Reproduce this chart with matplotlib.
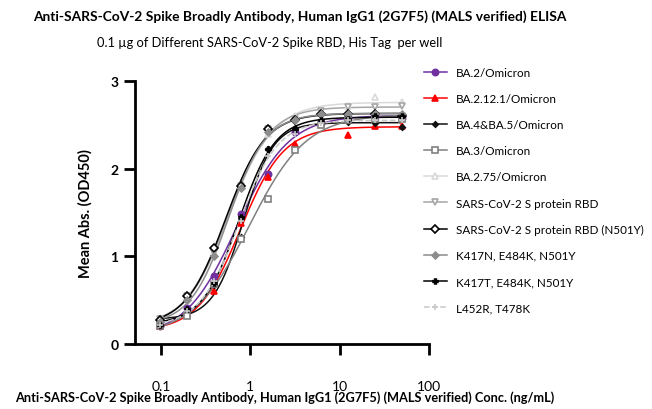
import numpy as np
import matplotlib.pyplot as plt
from matplotlib.lines import Line2D

plt.rcParams['font.family'] = ['Lato', 'DejaVu Sans']

# concentracoes (ng/mL)
conc = [0.098, 0.195, 0.39, 0.78, 1.5625, 3.125, 6.25, 12.5, 25, 50]

ba2 = [0.20, 0.41, 0.78, 1.48, 1.94, 2.42, 2.52, 2.59, 2.59, 2.58]
ba2121 = [0.21, 0.34, 0.61, 1.38, 1.91, 2.28, 2.52, 2.38, 2.49, 2.49]
ba45 = [0.22, 0.35, 0.67, 1.22, 2.23, 2.46, 2.52, 2.53, 2.52, 2.47]
ba3 = [0.20, 0.32, 0.68, 1.20, 1.65, 2.21, 2.50, 2.55, 2.57, 2.57]
ba275 = [0.28, 0.55, 1.05, 1.80, 2.40, 2.60, 2.65, 2.72, 2.82, 2.76]
rbd = [0.29, 0.55, 1.04, 1.80, 2.45, 2.57, 2.66, 2.70, 2.70, 2.72]
n501y = [0.27, 0.55, 1.10, 1.80, 2.45, 2.55, 2.62, 2.62, 2.62, 2.60]
k417n = [0.25, 0.50, 1.00, 1.78, 2.42, 2.55, 2.62, 2.62, 2.62, 2.62]
k417t = [0.22, 0.40, 0.70, 1.45, 2.22, 2.45, 2.55, 2.57, 2.60, 2.60]
l452r = [0.22, 0.38, 0.72, 1.40, 2.15, 2.40, 2.52, 2.55, 2.55, 2.55]

labels = ['BA.2/Omicron', 'BA.2.12.1/Omicron', 'BA.4&BA.5/Omicron', 'BA.3/Omicron',
          'BA.2.75/Omicron', 'SARS-CoV-2 S protein RBD', 'SARS-CoV-2 S protein RBD (N501Y)',
          'K417N, E484K, N501Y', 'K417T, E484K, N501Y', 'L452R, T478K']
series = [ba2, ba2121, ba45, ba3, ba275, rbd, n501y, k417n, k417t, l452r]

# estilo de cada serie: (cor, marcador, face, linestyle)
estilos = [
    ('#7030A0', 'o', '#7030A0', '-'),
    ('#FF0000', '^', '#FF0000', '-'),
    ('#111111', 'D', '#111111', '-'),
    ('#808080', 's', 'white', '-'),
    ('#D9D9D9', '^', 'white', '-'),
    ('#A6A6A6', 'v', 'white', '-'),
    ('#000000', 'D', 'white', '-'),
    ('#8C8C8C', 'D', '#8C8C8C', '-'),
    ('#000000', 'P', '#000000', '-'),
    ('#C8C8C8', '+', '#C8C8C8', '--'),
]
tamanhos = [4.5, 4.5, 2.8, 4.5, 5, 5, 4.5, 3.5, 3.5, 5]


def ajuste_4pl(x, y):
    """Ajuste logistico 4 parametros: grade em logEC50/hill, minimos quadrados no resto."""
    lx = np.log10(x)
    y = np.asarray(y)
    best = None
    for le in np.arange(-1.0, 0.6, 0.01):
        for h in np.arange(0.6, 3.0, 0.02):
            f = 1.0 / (1.0 + 10 ** ((le - lx) * h))
            A = np.column_stack([1 - f, f])
            coef, *_ = np.linalg.lstsq(A, y, rcond=None)
            err = np.sum((A @ coef - y) ** 2)
            if best is None or err < best[0]:
                best = (err, coef[0], coef[1], le, h)
    return best[1:]


fig = plt.figure(figsize=(6.52, 4.10), dpi=100)
ax = fig.add_axes([135 / 652, 65 / 410, 294 / 652, 263 / 410])

xs = np.logspace(np.log10(conc[0]), np.log10(conc[-1]), 200)
handles = []
for y, lab, (cor, mk, face, ls), ms in zip(series, labels, estilos, tamanhos):
    bot, top, le, h = ajuste_4pl(conc, y)
    curva = bot + (top - bot) / (1 + 10 ** ((le - np.log10(xs)) * h))
    ax.plot(xs, curva, color=cor, lw=1.1, ls=ls, zorder=2)
    ax.plot(conc, y, ls='none', marker=mk, ms=ms, mfc=face, mec=cor, mew=1.2, zorder=3)
    handles.append(Line2D([], [], color=cor, ls=ls, lw=1.1, marker=mk, ms=ms,
                          mfc=face, mec=cor, mew=1.2))

ax.set_xscale('log')
ax.set_xlim(0.051, 100)
ax.set_ylim(0, 3)
ax.set_xticks([0.1, 1, 10, 100])
ax.set_xticklabels(['0.1', '1', '10', '100'])
ax.minorticks_off()
ax.set_yticks([0, 1, 2, 3])
for s in ['top', 'right']:
    ax.spines[s].set_visible(False)
for s in ['left', 'bottom']:
    ax.spines[s].set_linewidth(2)
ax.tick_params(axis='both', width=2, length=8, labelsize=10)
ax.tick_params(axis='x', pad=18)
ax.tick_params(axis='y', pad=4)
for t in ax.get_yticklabels():
    t.set_fontweight('bold')

ax.set_ylabel('Mean Abs. (OD450)', fontsize=10.5, fontweight='bold', labelpad=13)

fig.text(33 / 652, 1 - 17 / 410,
         'Anti-SARS-CoV-2 Spike Broadly Antibody, Human IgG1 (2G7F5) (MALS verified) ELISA',
         fontsize=9.9, fontweight='bold', va='center', ha='left')
fig.text(97 / 652, 1 - 43 / 410,
         '0.1 \u00b5g of Different SARS-CoV-2 Spike RBD, His Tag  per well',
         fontsize=9.3, va='center', ha='left')
fig.text(15 / 652, 1 - 398 / 410,
         'Anti-SARS-CoV-2 Spike Broadly Antibody, Human IgG1 (2G7F5) (MALS verified) Conc. (ng/mL)',
         fontsize=9.2, fontweight='bold', va='center', ha='left')

fig.legend(handles, labels, loc='upper left', bbox_to_anchor=(419 / 652, 1 - 63 / 410),
           frameon=False, fontsize=8.4, handlelength=2.0, labelspacing=1.3,
           handletextpad=0.8, borderaxespad=0)

fig.savefig('out.png', dpi=100)
